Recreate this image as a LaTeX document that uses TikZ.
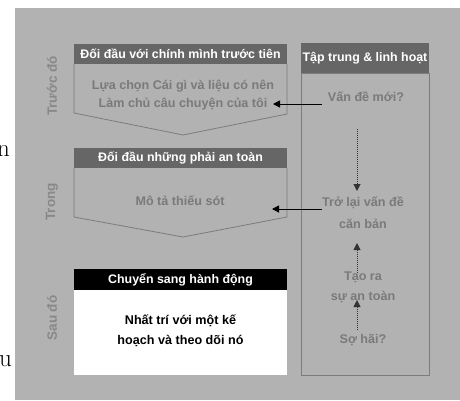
\documentclass[tikz,border=0pt]{standalone}
\usepackage{fontspec}
\setmainfont{Liberation Sans}
\newfontfamily\serifstray{Latin Modern Roman}
\usetikzlibrary{arrows.meta}
\definecolor{panel}{HTML}{B2B2B2}
\definecolor{hdr}{HTML}{666666}
\definecolor{outl}{HTML}{7C7C7C}
\definecolor{soft}{HTML}{7A7A7A}
\definecolor{side}{HTML}{888888}
\tikzset{
  hdrtext/.style={font=\bfseries\fontsize{12.4}{14}\selectfont, text=white, inner sep=0pt},
  bodytext/.style={font=\bfseries\fontsize{12.6}{14}\selectfont, text=soft, align=center, inner sep=1pt},
  sidetext/.style={font=\bfseries\fontsize{13.5}{15}\selectfont, text=side, rotate=90},
  blacktext/.style={font=\bfseries\fontsize{12.6}{14}\selectfont, text=black, align=center},
  outline/.style={draw=outl, line width=0.8pt},
  solidarrow/.style={draw=black, line width=1pt, -{Triangle[length=7pt,width=7pt]}},
  dotarrow/.style={draw=black!80, line width=1pt, densely dotted, -{Triangle[length=7pt,width=7pt]}},
}
\begin{document}
\begin{tikzpicture}[x=1pt,y=-1pt]
\useasboundingbox (0,0) rectangle (460,400);
\fill[white] (0,0) rectangle (460,400);
\fill[panel] (15,8) rectangle (460,400);
% stray serif letters at the left edge
\node[font=\serifstray\fontsize{25}{28}\selectfont, anchor=base east, inner sep=0pt] (strayn) at (10,156) {n};
\node[font=\serifstray\fontsize{25}{28}\selectfont, anchor=base east, inner sep=0pt] (strayu) at (12,366) {u};
% side labels
\node[sidetext] (lbl1) at (52,86) {Trước đó};
\node[sidetext] (lbl2) at (52,202) {Trong};
\node[sidetext] (lbl3) at (52,318) {Sau đó};
% box 1
\draw[outline] (74,64) -- (74,113) -- (183,135) -- (287,114) -- (287,64);
\fill[hdr] (74,44) rectangle (287,64);
\node[hdrtext] (h1) at (180.5,54) {Đối đầu với chính mình trước tiên};
\node[bodytext] (b1a) at (183,86) {Lựa chọn Cái gì và liệu có nên};
\node[bodytext] (b1b) at (183,104) {Làm chủ câu chuyện của tôi};
\coordinate (t1) at (273,104);
% box 2
\draw[outline] (74,168) -- (74,217) -- (183,237) -- (287,217) -- (287,168);
\fill[hdr] (74,148) rectangle (287,168);
\node[hdrtext] (h2) at (180.5,158) {Đối đầu những phải an toàn};
\node[bodytext] (b2) at (180,201) {Mô tả thiếu sót};
\coordinate (t2) at (272,209);
% box 3
\fill[white] (74,290) rectangle (287,375);
\fill[black] (74,269) rectangle (287,290);
\node[hdrtext] (h3) at (180.5,279.5) {Chuyển sang hành động};
\node[blacktext] (b3a) at (180.5,321) {Nhất trí với một kế};
\node[blacktext] (b3b) at (180.5,341) {hoạch và theo dõi nó};
% right box
\draw[outline] (301,73) rectangle (429,375);
\fill[hdr] (301,43) rectangle (429,73);
\node[hdrtext] (rh) at (365,58) {Tập trung \& linh hoạt};
\node[bodytext] (r1) at (366,97) {Vấn đề mới?};
\node[bodytext] (r2a) at (363,203) {Trở lại vấn đề};
\node[bodytext] (r2b) at (363,224) {căn bản};
\node[bodytext] (r3a) at (363,277) {Tạo ra};
\node[bodytext] (r3b) at (363,297) {sự an toàn};
\node[bodytext] (r4) at (363,340) {Sợ hãi?};
\coordinate (s1) at (322,104);
\coordinate (s2) at (322,209);
% arrows
\draw[solidarrow] (s1) -- (t1);
\draw[solidarrow] (s2) -- (t2);
\coordinate (d1s) at (357,129);
\coordinate (d1e) at (357,191);
\coordinate (d2s) at (357,273);
\coordinate (d2e) at (357,243);
\coordinate (d3s) at (357,330);
\coordinate (d3e) at (357,300);
\draw[dotarrow] (d1s) -- (d1e);
\draw[dotarrow] (d2s) -- (d2e);
\draw[dotarrow] (d3s) -- (d3e);
\end{tikzpicture}
\end{document}
